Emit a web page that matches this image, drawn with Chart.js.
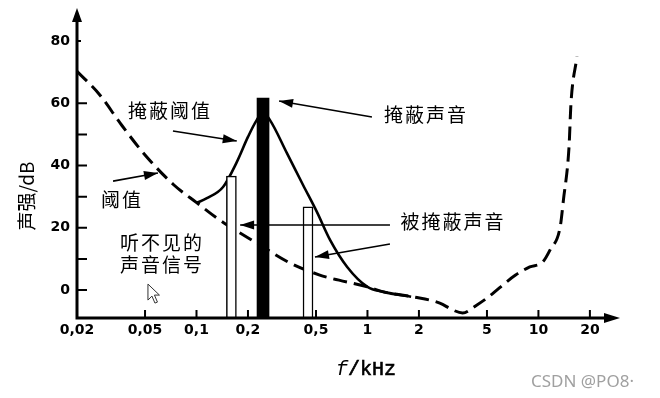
<!DOCTYPE html>
<html>
<head>
<meta charset="utf-8">
<script src="https://cdn.jsdelivr.net/npm/chart.js@4.4.1/dist/chart.umd.min.js"></script>
<style>
  body { margin: 0; background: #fff; }
  #wrap { width: 660px; height: 398px; }
</style>
</head>
<body>
<div id="wrap"><canvas id="myChart" width="660" height="398"></canvas></div>
<script>
// hearing threshold in quiet (dashed curve), kHz / dB
const thresholdFreq = [0.02, 0.0272, 0.0357, 0.05, 0.0738, 0.1006, 0.1317, 0.151, 0.225, 0.352, 0.526, 0.6,
  1.0, 1.24, 1.85, 2.65, 3.15, 3.6, 4.37, 5.0, 7.35, 8.9, 10.6, 11.7, 13.4, 14.0, 15.1, 15.5, 16.8];
const thresholdLevel = [70.3, 62.7, 53.7, 43.4, 33.75, 28.0, 23.1, 20.9, 15.1, 8.7, 4.8, 3.9,
  1.0, -0.6, -2.2, -4.2, -6.4, -7.4, -4.8, -2.6, 4.8, 7.4, 9.0, 12.9, 20.25, 28.9, 46, 60, 75];

// masking threshold around the masker (solid curve)
const maskFreq = [0.1, 0.115, 0.143, 0.172, 0.2, 0.225, 0.245, 0.269, 0.338, 0.42, 0.506, 0.604, 0.761, 1.0, 1.24, 1.8];
const maskLevel = [28, 29.5, 33.1, 41.1, 49.2, 54.6, 57, 54.6, 44.0, 33.75, 25.1, 16.1, 7.4, 1.0, -0.6, -2.2];

// masker tone (black bar) and masked tones (white bars)
const maskerFreq = [0.245];
const maskerLevel = [61.7];
const maskedFreq = [0.16, 0.449];
const maskedLevel = [36.6, 26.7];

const xTicks = [0.02, 0.05, 0.1, 0.2, 0.5, 1, 2, 5, 10, 20];
const xTickLabels = ['0,02', '0,05', '0,1', '0,2', '0,5', '1', '2', '5', '10', '20'];
const yTicks = [0, 10, 20, 30, 40, 50, 60, 80];
const yTickLabels = ['0', '', '20', '', '40', '', '60', '80'];

const Y_MIN = -9;
const Y_MAX = 90;

function pairs(xs, ys) {
  return xs.map((x, i) => ({ x: x, y: ys[i] }));
}

function arrowHead(ctx, x0, y0, x1, y1, len, half) {
  const ang = Math.atan2(y1 - y0, x1 - x0);
  ctx.beginPath();
  ctx.moveTo(x1, y1);
  ctx.lineTo(x1 - len * Math.cos(ang) + half * Math.sin(ang), y1 - len * Math.sin(ang) - half * Math.cos(ang));
  ctx.lineTo(x1 - len * Math.cos(ang) - half * Math.sin(ang), y1 - len * Math.sin(ang) + half * Math.cos(ang));
  ctx.closePath();
  ctx.fill();
}

// text notes and arrows, placed in data units (kHz, dB)
const notes = [
  { text: '掩蔽阈值', x: 0.070, y: 57.5 },
  { text: '掩蔽声音', x: 2.2, y: 56.2 },
  { text: '阈值', x: 0.0367, y: 28.9 },
  { text: '被掩蔽声音', x: 3.16, y: 21.9 },
  { text: '听不见的', x: 0.0628, y: 15.1 },
  { text: '声音信号', x: 0.0628, y: 8.0 }
];
const pointers = [
  { from: [0.0728, 51.1], to: [0.172, 47.9] },
  { from: [1.062, 55.6], to: [0.304, 60.75] },
  { from: [0.0325, 35.0], to: [0.0595, 37.6] },
  { from: [1.354, 20.9], to: [0.18, 20.9] },
  { from: [1.354, 14.8], to: [0.493, 10.6] }
];

const decorations = {
  id: 'decorations',
  afterDatasetsDraw(chart) {
    const { ctx, chartArea: a, scales: { x, y } } = chart;
    const px = v => x.getPixelForValue(v);
    const py = v => y.getPixelForValue(v);
    ctx.save();
    ctx.strokeStyle = '#000';
    ctx.fillStyle = '#000';

    // axes with arrows
    ctx.lineWidth = 3;
    ctx.beginPath();
    ctx.moveTo(a.left, a.bottom + 1.5);
    ctx.lineTo(a.left, a.top + 10);
    ctx.moveTo(a.left - 1.5, a.bottom);
    ctx.lineTo(a.right - 10, a.bottom);
    ctx.stroke();
    arrowHead(ctx, a.left, a.bottom, a.left, a.top - 2, 14, 5);
    arrowHead(ctx, a.left, a.bottom, a.right, a.bottom, 16, 5);

    // tick marks pointing inward
    ctx.lineWidth = 2;
    ctx.beginPath();
    yTicks.forEach(v => {
      const len = v === 80 ? 4 : 10;
      ctx.moveTo(a.left, py(v));
      ctx.lineTo(a.left + len, py(v));
    });
    xTicks.forEach(v => {
      ctx.moveTo(px(v), a.bottom);
      ctx.lineTo(px(v), a.bottom - 8);
    });
    ctx.stroke();

    // pointer arrows
    ctx.lineWidth = 1.6;
    pointers.forEach(p => {
      const x0 = px(p.from[0]), y0 = py(p.from[1]);
      const x1 = px(p.to[0]), y1 = py(p.to[1]);
      ctx.beginPath();
      ctx.moveTo(x0, y0);
      ctx.lineTo(x1, y1);
      ctx.stroke();
      arrowHead(ctx, x0, y0, x1, y1, 14, 4.5);
    });

    // notes
    ctx.font = '19px "Noto Sans CJK SC"';
    ctx.letterSpacing = '2px';
    ctx.textAlign = 'center';
    ctx.textBaseline = 'middle';
    notes.forEach(n => ctx.fillText(n.text, px(n.x), py(n.y)));
    ctx.letterSpacing = '0px';

    // mouse pointer left in the screenshot
    const cx = px(0.052), cy = py(1.9);
    ctx.beginPath();
    ctx.moveTo(cx, cy);
    ctx.lineTo(cx, cy + 16);
    ctx.lineTo(cx + 4, cy + 12);
    ctx.lineTo(cx + 7, cy + 19);
    ctx.lineTo(cx + 9.5, cy + 18);
    ctx.lineTo(cx + 6.5, cy + 11);
    ctx.lineTo(cx + 11.5, cy + 11);
    ctx.closePath();
    ctx.fillStyle = '#fff';
    ctx.fill();
    ctx.lineWidth = 1;
    ctx.strokeStyle = '#333';
    ctx.stroke();

    // axis titles
    ctx.fillStyle = '#000';
    ctx.save();
    ctx.translate(27, 196);
    ctx.rotate(-Math.PI / 2);
    ctx.font = '19px "Noto Sans CJK SC"';
    ctx.textAlign = 'center';
    ctx.fillText('声强/dB', 0, 0);
    ctx.restore();

    ctx.textAlign = 'left';
    ctx.textBaseline = 'alphabetic';
    ctx.font = 'italic 20px "Liberation Mono"';
    ctx.fillText('f', 336, 375);
    const fw = ctx.measureText('f').width;
    ctx.font = '20px "Liberation Mono"';
    ctx.lineWidth = 0.6;
    ctx.strokeStyle = '#000';
    ctx.fillText('/kHz', 336 + fw, 375);
    ctx.strokeText('/kHz', 336 + fw, 375);

    // watermark
    ctx.font = '17px "Noto Sans"';
    ctx.fillStyle = '#a0a0a0';
    ctx.fillText('CSDN @PO8·', 531, 387);
    ctx.restore();
  }
};

const ctx = document.getElementById('myChart').getContext('2d');

const chart = new Chart(ctx, {
  type: 'line',
  data: {
    datasets: [
      {
        type: 'bar',
        data: pairs(maskerFreq, maskerLevel),
        base: Y_MIN,
        grouped: false,
        barThickness: 12,
        backgroundColor: '#000',
        borderColor: '#000',
        borderWidth: 0,
        order: 0
      },
      {
        type: 'bar',
        data: pairs(maskedFreq, maskedLevel),
        base: Y_MIN,
        grouped: false,
        barThickness: 10,
        backgroundColor: '#fff',
        borderColor: '#000',
        borderWidth: 1.5,
        order: 1
      },
      {
        data: pairs(maskFreq, maskLevel),
        borderColor: '#000',
        borderWidth: 2.6,
        pointRadius: 0,
        cubicInterpolationMode: 'monotone',
        fill: false,
        order: 2
      },
      {
        data: pairs(thresholdFreq, thresholdLevel),
        borderColor: '#000',
        borderWidth: 3,
        borderDash: [14, 7],
        pointRadius: 0,
        cubicInterpolationMode: 'monotone',
        fill: false,
        order: 3
      }
    ]
  },
  options: {
    responsive: false,
    animation: false,
    layout: { padding: { top: 10, right: 40, left: 0, bottom: 0 } },
    plugins: {
      legend: { display: false },
      tooltip: { enabled: false }
    },
    scales: {
      x: {
        type: 'logarithmic',
        min: 0.02,
        max: 30,
        grid: { display: false, drawTicks: false },
        border: { display: false },
        afterBuildTicks: scale => {
          scale.ticks = xTicks.map(v => ({ value: v }));
        },
        afterFit: scale => {
          scale.height = 80;
          scale.paddingLeft = 0;
          scale.paddingRight = 0;
        },
        ticks: {
          autoSkip: false,
          maxRotation: 0,
          padding: 4,
          color: '#000',
          font: { family: 'DejaVu Sans', weight: 'bold', size: 14 },
          callback: (v, i) => xTickLabels[i]
        }
      },
      y: {
        type: 'linear',
        min: Y_MIN,
        max: Y_MAX,
        grid: { display: false, drawTicks: false },
        border: { display: false },
        afterBuildTicks: scale => {
          scale.ticks = yTicks.map(v => ({ value: v }));
        },
        afterFit: scale => {
          scale.width = 77;
          scale.paddingTop = 0;
          scale.paddingBottom = 0;
        },
        ticks: {
          autoSkip: false,
          padding: 7,
          color: '#000',
          font: { family: 'DejaVu Sans', weight: 'bold', size: 14 },
          callback: (v, i) => yTickLabels[i]
        }
      }
    }
  },
  plugins: [decorations]
});
</script>
</body>
</html>
